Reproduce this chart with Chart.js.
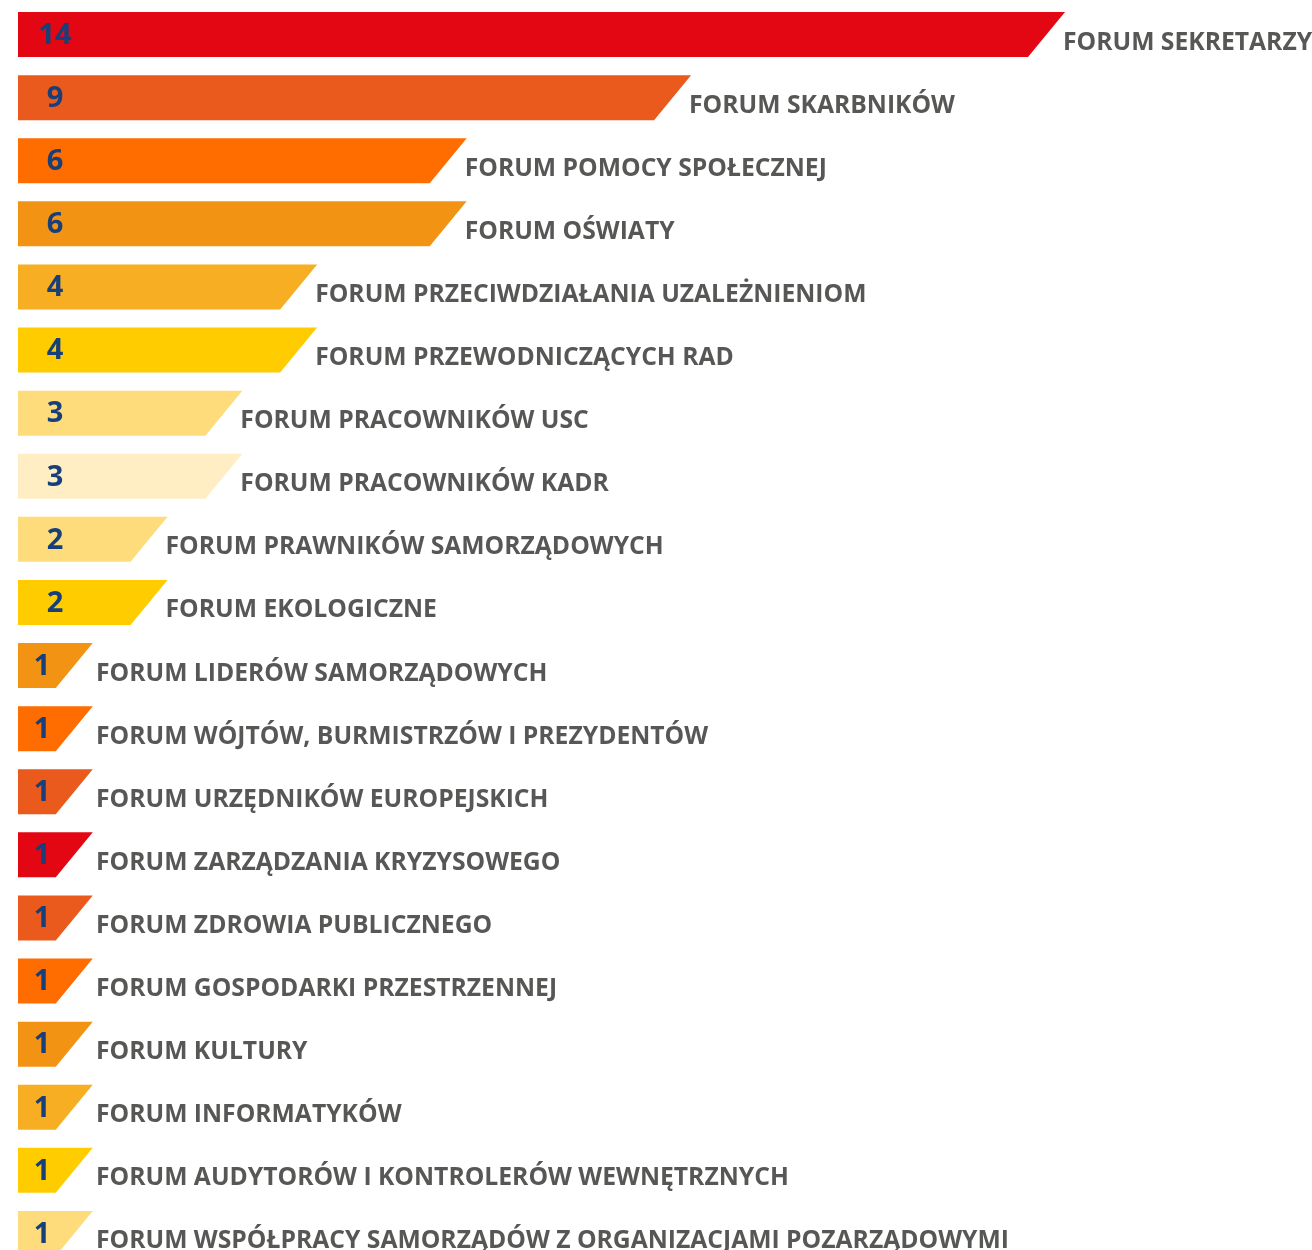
<!DOCTYPE html>
<html>
<head>
<meta charset="utf-8">
<script src="https://cdn.jsdelivr.net/npm/chart.js@4.4.1/dist/chart.umd.min.js"></script>
<style>
  html, body { margin: 0; padding: 0; background: #fff; overflow: hidden; }
  #wrap { width: 1312px; height: 1250px; overflow: hidden; }
  #box { width: 1312px; height: 1265px; position: relative; }
</style>
</head>
<body>
<div id="wrap"><div id="box"><canvas id="chart"></canvas></div></div>
<script>
const categories = [
    'FORUM SEKRETARZY',
    'FORUM SKARBNIKÓW',
    'FORUM POMOCY SPOŁECZNEJ',
    'FORUM OŚWIATY',
    'FORUM PRZECIWDZIAŁANIA UZALEŻNIENIOM',
    'FORUM PRZEWODNICZĄCYCH RAD',
    'FORUM PRACOWNIKÓW USC',
    'FORUM PRACOWNIKÓW KADR',
    'FORUM PRAWNIKÓW SAMORZĄDOWYCH',
    'FORUM EKOLOGICZNE',
    'FORUM LIDERÓW SAMORZĄDOWYCH',
    'FORUM WÓJTÓW, BURMISTRZÓW I PREZYDENTÓW',
    'FORUM URZĘDNIKÓW EUROPEJSKICH',
    'FORUM ZARZĄDZANIA KRYZYSOWEGO',
    'FORUM ZDROWIA PUBLICZNEGO',
    'FORUM GOSPODARKI PRZESTRZENNEJ',
    'FORUM KULTURY',
    'FORUM INFORMATYKÓW',
    'FORUM AUDYTORÓW I KONTROLERÓW WEWNĘTRZNYCH',
    'FORUM WSPÓŁPRACY SAMORZĄDÓW Z ORGANIZACJAMI POZARZĄDOWYMI'
];

const values = [14, 9, 6, 6, 4, 4, 3, 3, 2, 2, 1, 1, 1, 1, 1, 1, 1, 1, 1, 1];

const barColors = [
    '#e30613', '#e95a1c', '#ff6c00', '#f39313', '#f8ae22',
    '#ffcc00', '#fedc7c', '#ffeec4', '#fedc7c', '#ffcc00',
    '#f39313', '#ff6c00', '#e95a1c', '#e30613', '#e95a1c',
    '#ff6c00', '#f39313', '#f8ae22', '#ffcc00', '#fedc7c'
];

const SLANT = 37;

// bars with a cut right end, value inside, name after the bar
const slantBars = {
    id: 'slantBars',
    beforeDatasetDraw() {
        return false;
    },
    afterDatasetsDraw(chart) {
        const ctx = chart.ctx;
        const meta = chart.getDatasetMeta(0);
        const ds = chart.data.datasets[0];
        ctx.save();
        meta.data.forEach((el, i) => {
            const top = el.y - el.height / 2;
            const bottom = el.y + el.height / 2;
            ctx.fillStyle = ds.backgroundColor[i];
            ctx.beginPath();
            ctx.moveTo(el.base, top);
            ctx.lineTo(el.x, top);
            ctx.lineTo(el.x - SLANT, bottom);
            ctx.lineTo(el.base, bottom);
            ctx.closePath();
            ctx.fill();

            ctx.fillStyle = '#173f7a';
            ctx.font = 'bold 29px "Open Sans"';
            ctx.textAlign = 'center';
            ctx.textBaseline = 'middle';
            const cx = Math.min(55, (el.base + el.x - SLANT / 2) / 2 - 4);
            ctx.fillText(ds.data[i], cx, el.y + 1);

            ctx.fillStyle = '#575756';
            ctx.font = 'bold 24.7px "Open Sans"';
            ctx.textAlign = 'left';
            ctx.textBaseline = 'alphabetic';
            ctx.fillText(chart.data.labels[i], Math.max(el.x - 2, 96), el.y + 15);
        });
        ctx.restore();
    }
};

new Chart(document.getElementById('chart'), {
    type: 'bar',
    data: {
        labels: categories,
        datasets: [{
            label: 'Liczba forów',
            data: values,
            backgroundColor: barColors,
            borderWidth: 0,
            barPercentage: 0.713,
            categoryPercentage: 1
        }]
    },
    options: {
        indexAxis: 'y',
        maintainAspectRatio: false,
        responsive: true,
        animation: false,
        layout: {
            padding: { left: 18, right: 247, top: 3, bottom: 0 }
        },
        plugins: {
            legend: { display: false },
            tooltip: { enabled: false }
        },
        scales: {
            x: { display: false, min: 0, max: 14 },
            y: { display: false }
        }
    },
    plugins: [slantBars]
});
</script>
</body>
</html>
